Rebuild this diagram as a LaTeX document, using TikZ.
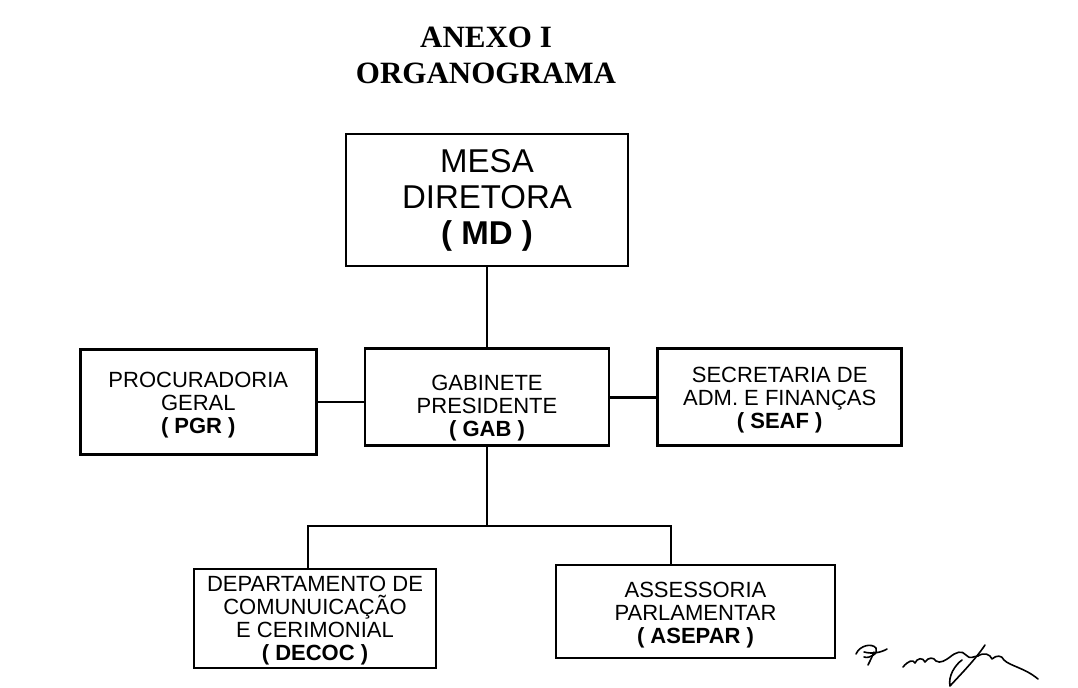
\documentclass[tikz,border=0pt]{standalone}
\usepackage{fontspec}
\setmainfont{Liberation Serif}
\setsansfont{Liberation Sans}
\usetikzlibrary{positioning}
\tikzset{line/.style={draw, line width=1pt}}

\begin{document}
\begin{tikzpicture}[x=0.5pt, y=-0.5pt]
\tikzstyle{block} = [rectangle, draw, line width=1.35pt, inner sep=0pt, align=center, font=\sffamily\fontsize{11}{11.5}\selectfont]
\tikzstyle{title} = [inner sep=0pt, align=center, font=\bfseries\fontsize{15.5}{17.5}\selectfont]
\tikzstyle{sig} = [line width=0.8pt, line cap=round, line join=round]

\useasboundingbox (0,0) rectangle (1078,687);

\node [title] (anexo) at (486,37) {ANEXO I};
\node [title, below=7.5pt of anexo] (organograma) {ORGANOGRAMA};

\node [block, minimum width=141pt, minimum height=66pt, font=\sffamily\fontsize{16.5}{18}\selectfont] (md) at (487,200) {MESA\\DIRETORA\\\textbf{( MD )}};
\node [block, minimum width=122pt, minimum height=48.5pt, below=40pt of md] (gab) {\rule{0pt}{19pt}GABINETE\\PRESIDENTE\\\textbf{( GAB )}};
\node [block, minimum width=118pt, minimum height=52.5pt, left=23pt of gab, yshift=-2.5pt] (pgr) {\rule{0pt}{11pt}PROCURADORIA\\GERAL\\\textbf{( PGR )}};
\node [block, minimum width=122pt, minimum height=48.5pt, right=23pt of gab] (seaf) {\rule{0pt}{11pt}SECRETARIA DE\\ADM. E FINANÇAS\\\textbf{( SEAF )}};
\node [block, minimum width=121pt, minimum height=49.5pt] (decoc) at (315,618.5) {\rule{0pt}{10pt}DEPARTAMENTO DE\\COMUNUICAÇÃO\\E CERIMONIAL\\\textbf{( DECOC )}};
\node [block, minimum width=139.5pt, minimum height=46.5pt] (asepar) at (695.5,611.5) {\rule{0pt}{11pt}ASSESSORIA\\PARLAMENTAR\\\textbf{( ASEPAR )}};
\coordinate (bus) at (487,526);

\path [line] (md.south) -- (md.south |- gab.north);
\path [line] (pgr.east) -- (pgr.east -| gab.west);
\path [line, line width=1.5pt] (gab.east) -- (seaf.west);
\path [line] (gab.south -| bus) -- (bus);
\path [line] (bus) -| ([xshift=-3.75pt]decoc.north);
\path [line] (bus) -| ([xshift=-12.25pt]asepar.north);

% rubrica
\draw [sig] (856,654) .. controls (860,645) and (872,643) .. (876,648) .. controls (879,653) and (870,659) .. (864,657);
\draw [sig] (864,652) .. controls (872,654) and (880,653) .. (887,649);
\draw [sig] (874,652) .. controls (872,657) and (870,661) .. (868,665);
\draw [sig] (903,667) .. controls (908,661) and (913,659) .. (915,663)
  .. controls (917,658) and (923,657) .. (925,662)
  .. controls (928,657) and (934,657) .. (936,661)
  .. controls (940,664) and (946,660) .. (950,657)
  .. controls (956,652) and (962,650) .. (966,655)
  .. controls (970,660) and (974,656) .. (978,656)
  .. controls (984,652) and (990,654) .. (992,659)
  .. controls (996,655) and (1002,655) .. (1004,660)
  .. controls (1010,666) and (1025,668) .. (1038,679);
\draw [sig] (985,645) .. controls (975,660) and (960,675) .. (950,686) .. controls (948,676) and (955,665) .. (962,660);

\end{tikzpicture}
\end{document}
